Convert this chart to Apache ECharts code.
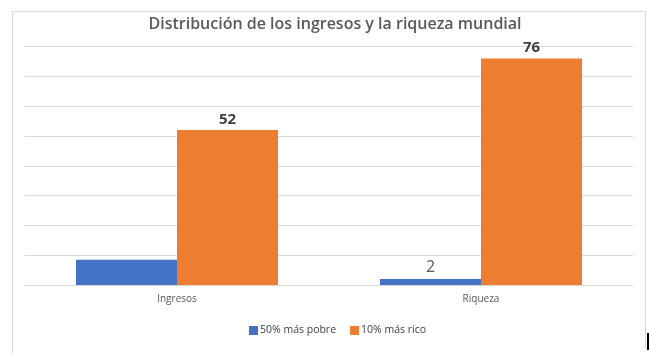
<!DOCTYPE html>
<html>
<head>
<meta charset="utf-8">
<script src="https://cdn.jsdelivr.net/npm/echarts@6/dist/echarts.min.js"></script>
<style>
  html, body { margin: 0; padding: 0; background: #fff; }
  #chart { width: 649px; height: 353px; }
</style>
</head>
<body>
<div id="chart"></div>
<script>
var categories = ['Ingresos', 'Riqueza'];
var seriesNames = ['50% más pobre', '10% más rico'];
var pobre = [8.5, 2];
var rico = [52, 76];
// only some bars carry a data label in the original
var pobreLabels = [false, true];

var myChart = echarts.init(document.getElementById('chart'));

var option = {
    backgroundColor: '#ffffff',
    animation: false,
    title: {
        text: 'Distribución de los ingresos y la riqueza mundial',
        left: 330,
        textAlign: 'center',
        top: 11,
        textStyle: {
            fontFamily: 'Open Sans',
            fontSize: 16,
            fontWeight: 600,
            color: '#595959'
        }
    },
    legend: {
        data: seriesNames,
        left: 244,
        top: 320,
        itemWidth: 9,
        itemHeight: 9,
        itemGap: 14,
        icon: 'rect',
        textStyle: {
            fontFamily: 'Open Sans',
            fontSize: 10.5,
            color: '#404040',
            padding: [0, 0, 0, -3]
        }
    },
    grid: {
        left: 25,
        right: 16,
        top: 46.7,
        bottom: 68
    },
    xAxis: {
        type: 'category',
        data: categories,
        axisLine: { lineStyle: { color: '#d9d9d9', width: 1 } },
        axisTick: { show: false },
        axisLabel: {
            fontFamily: 'Open Sans',
            fontSize: 10,
            color: '#595959',
            margin: 9
        }
    },
    yAxis: {
        type: 'value',
        min: 0,
        max: 80,
        interval: 10,
        axisLabel: { show: false },
        axisLine: { show: false },
        axisTick: { show: false },
        splitLine: { lineStyle: { color: '#d9d9d9', width: 1 } }
    },
    series: [
        {
            name: seriesNames[0],
            type: 'bar',
            barWidth: 101,
            barGap: '0%',
            itemStyle: { color: '#4472C4' },
            data: pobre.map(function (v, i) {
                return {
                    value: v,
                    label: {
                        show: pobreLabels[i],
                        position: 'top',
                        distance: 4,
                        fontFamily: 'Open Sans',
                        fontSize: 16,
                        color: '#595959'
                    }
                };
            })
        },
        {
            name: seriesNames[1],
            type: 'bar',
            barWidth: 101,
            barGap: '0%',
            itemStyle: { color: '#ED7D31' },
            label: {
                show: true,
                position: 'top',
                distance: 3,
                fontFamily: 'Open Sans',
                fontSize: 15,
                fontWeight: 'bold',
                color: '#404040'
            },
            data: rico
        }
    ],
    graphic: [
        {
            type: 'polyline',
            shape: { points: [[12.5, 353], [12.5, 11.5], [645.5, 11.5], [645.5, 348]] },
            style: { stroke: '#d9d9d9', lineWidth: 1, fill: null },
            silent: true
        },
        {
            type: 'rect',
            shape: { x: 647, y: 333, width: 2, height: 17 },
            style: { fill: '#000000' },
            silent: true
        }
    ]
};

myChart.setOption(option);
</script>
</body>
</html>
